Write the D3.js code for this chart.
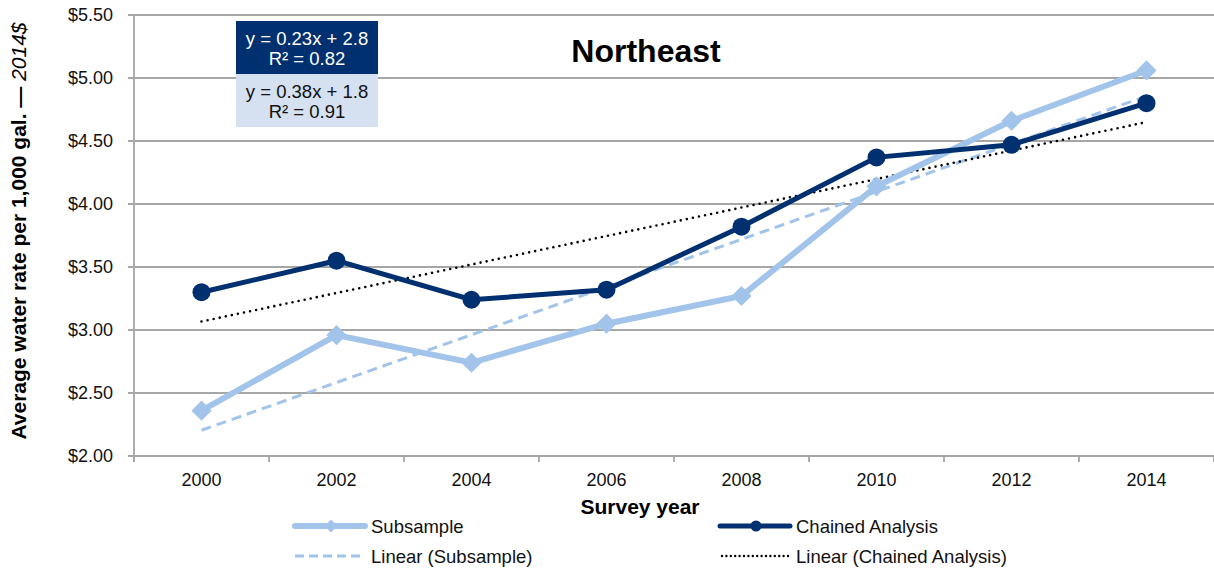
<!DOCTYPE html>
<html>
<head>
<meta charset="utf-8">
<script src="https://cdn.jsdelivr.net/npm/d3@7"></script>
<style>
	body { margin: 0; background: #fff; }
	svg { font-family: Arial, "Liberation Sans", sans-serif; display: block; }
</style>
</head>
<body>
<svg id="chart" width="1214" height="569"></svg>
<script>

// chart data
var years = ["2000", "2002", "2004", "2006", "2008", "2010", "2012", "2014"]
var subsample = [2.36, 2.96, 2.74, 3.05, 3.27, 4.14, 4.66, 5.06]
var chained = [3.30, 3.55, 3.24, 3.32, 3.82, 4.37, 4.47, 4.80]
var yTicks = [2.0, 2.5, 3.0, 3.5, 4.0, 4.5, 5.0, 5.5]
var eqChained = ["y = 0.23x + 2.8", "R² = 0.82"]
var eqSubsample = ["y = 0.38x + 1.8", "R² = 0.91"]

var light = "#a3c4ea"
var navy = "#00306f"
var grid = "#a6a6a6"

var svg = d3.select("#chart")

var x = d3.scaleBand()
	.domain(years)
	.range([134, 1214])

var y = d3.scaleLinear()
	.domain([2, 5.5])
	.range([456, 15])

function cx(d, i) { return x(years[i]) + x.bandwidth() / 2 }

// least squares fit on index 1..n, like the spreadsheet trendline
function fit(vals) {
	var n = vals.length
	var mx = (n + 1) / 2
	var my = d3.mean(vals)
	var sxy = 0, sxx = 0
	vals.forEach(function(v, i) {
		sxy += (i + 1 - mx) * (v - my)
		sxx += (i + 1 - mx) * (i + 1 - mx)
	})
	var b = sxy / sxx
	var a = my - b * mx
	return vals.map(function(v, i) { return a + b * (i + 1) })
}

// caption of the slide above, cut off at the top like in the original
svg.append("text")
	.attr("x", 472)
	.attr("y", -3.5)
	.attr("text-anchor", "end")
	.attr("font-size", 15)
	.attr("fill", "#888")
	.text("by geography)")

// gridlines
svg.append("g")
	.selectAll("line")
	.data(yTicks)
	.enter().append("line")
		.attr("x1", 128)
		.attr("x2", 1214)
		.attr("y1", function(d) { return y(d) })
		.attr("y2", function(d) { return y(d) })
		.attr("stroke", grid)
		.attr("stroke-width", 1.8)

// y axis line
svg.append("line")
	.attr("x1", 134).attr("x2", 134)
	.attr("y1", y(5.5)).attr("y2", y(2) + 6)
	.attr("stroke", grid)
	.attr("stroke-width", 1.8)

// x ticks
var xtickPos = years.map(function(d) { return x(d) }).concat([1214])
svg.append("g")
	.selectAll("line")
	.data(xtickPos)
	.enter().append("line")
		.attr("x1", function(d) { return d })
		.attr("x2", function(d) { return d })
		.attr("y1", y(2))
		.attr("y2", y(2) + 6)
		.attr("stroke", grid)
		.attr("stroke-width", 1.8)

// y tick labels
svg.append("g")
	.selectAll("text")
	.data(yTicks)
	.enter().append("text")
		.attr("x", 113)
		.attr("y", function(d) { return y(d) + 6 })
		.attr("text-anchor", "end")
		.attr("font-size", 18)
		.attr("fill", "#111")
		.text(function(d) { return d3.format("$.2f")(d) })

// x tick labels
svg.append("g")
	.selectAll("text")
	.data(years)
	.enter().append("text")
		.attr("x", function(d) { return x(d) + x.bandwidth() / 2 })
		.attr("y", 486)
		.attr("text-anchor", "middle")
		.attr("font-size", 18)
		.attr("fill", "#111")
		.text(function(d) { return d })

svg.append("text")
	.attr("x", 640)
	.attr("y", 514)
	.attr("text-anchor", "middle")
	.attr("font-size", 21)
	.attr("font-weight", "bold")
	.text("Survey year")

var ylab = svg.append("text")
	.attr("transform", "translate(26," + 231 + ") rotate(-90)")
	.attr("text-anchor", "middle")
	.attr("font-size", 21)
	.attr("font-weight", "bold")
ylab.append("tspan").text("Average water rate per 1,000 gal. — ")
ylab.append("tspan").attr("font-style", "italic").attr("font-weight", "normal").text("2014$")

svg.append("text")
	.attr("x", 646)
	.attr("y", 62)
	.attr("text-anchor", "middle")
	.attr("font-size", 32)
	.attr("font-weight", "bold")
	.text("Northeast")

var line = d3.line()
	.x(cx)
	.y(function(d) { return y(d) })

// trendlines
svg.append("path")
	.datum(fit(subsample))
	.attr("d", line)
	.attr("fill", "none")
	.attr("stroke", light)
	.attr("stroke-width", 3)
	.attr("stroke-dasharray", "10,6")

svg.append("path")
	.datum(fit(chained))
	.attr("d", line)
	.attr("fill", "none")
	.attr("stroke", "#000")
	.attr("stroke-width", 2.6)
	.attr("stroke-dasharray", "0,6.2")
	.attr("stroke-linecap", "round")

// subsample series
svg.append("path")
	.datum(subsample)
	.attr("d", line)
	.attr("fill", "none")
	.attr("stroke", light)
	.attr("stroke-width", 6)

var diamond = d3.symbol().type(d3.symbolDiamond2).size(260)
svg.append("g")
	.selectAll("path")
	.data(subsample)
	.enter().append("path")
		.attr("d", diamond)
		.attr("transform", function(d, i) { return "translate(" + cx(d, i) + "," + y(d) + ")" })
		.attr("fill", light)

// chained series
svg.append("path")
	.datum(chained)
	.attr("d", line)
	.attr("fill", "none")
	.attr("stroke", navy)
	.attr("stroke-width", 5)

svg.append("g")
	.selectAll("circle")
	.data(chained)
	.enter().append("circle")
		.attr("cx", cx)
		.attr("cy", function(d) { return y(d) })
		.attr("r", 9)
		.attr("fill", navy)

// equation boxes
function eqBox(top, lines, fill, color) {
	var g = svg.append("g").attr("transform", "translate(236," + top + ")")
	g.append("rect")
		.attr("width", 142)
		.attr("height", 53)
		.attr("fill", fill)
	g.selectAll("text")
		.data(lines)
		.enter().append("text")
			.attr("x", 71)
			.attr("y", function(d, i) { return 24 + i * 20 })
			.attr("text-anchor", "middle")
			.attr("font-size", 18.5)
			.attr("fill", color)
			.text(function(d) { return d })
}
eqBox(21, eqChained, navy, "#fff")
eqBox(74, eqSubsample, "#d5e0f0", "#111")

// legend
function legendItem(lx, ly, label, kind) {
	var g = svg.append("g").attr("transform", "translate(" + lx + "," + ly + ")")
	if (kind == "sub") {
		g.append("line").attr("x1", 0).attr("x2", 70).attr("stroke", light).attr("stroke-width", 6).attr("stroke-linecap", "round")
		g.append("path").attr("d", d3.symbol().type(d3.symbolDiamond2).size(110)).attr("transform", "translate(36,0)").attr("fill", light)
	} else if (kind == "chain") {
		g.append("line").attr("x1", 0).attr("x2", 70).attr("stroke", navy).attr("stroke-width", 5).attr("stroke-linecap", "round")
		g.append("circle").attr("cx", 36).attr("r", 5.5).attr("fill", navy)
	} else if (kind == "linsub") {
		g.append("line").attr("x1", 0).attr("x2", 70).attr("stroke", light).attr("stroke-width", 3).attr("stroke-dasharray", "9,5")
	} else {
		g.append("line").attr("x1", 2).attr("x2", 70).attr("stroke", "#000").attr("stroke-width", 2.4)
			.attr("stroke-dasharray", "0,4.4").attr("stroke-linecap", "round")
	}
	g.append("text")
		.attr("x", 76)
		.attr("y", 7)
		.attr("font-size", 18.5)
		.attr("fill", "#111")
		.text(label)
}
legendItem(295, 526, "Subsample", "sub")
legendItem(720, 526, "Chained Analysis", "chain")
legendItem(295, 556, "Linear (Subsample)", "linsub")
legendItem(720, 556, "Linear (Chained Analysis)", "linchain")

</script>
</body>
</html>
